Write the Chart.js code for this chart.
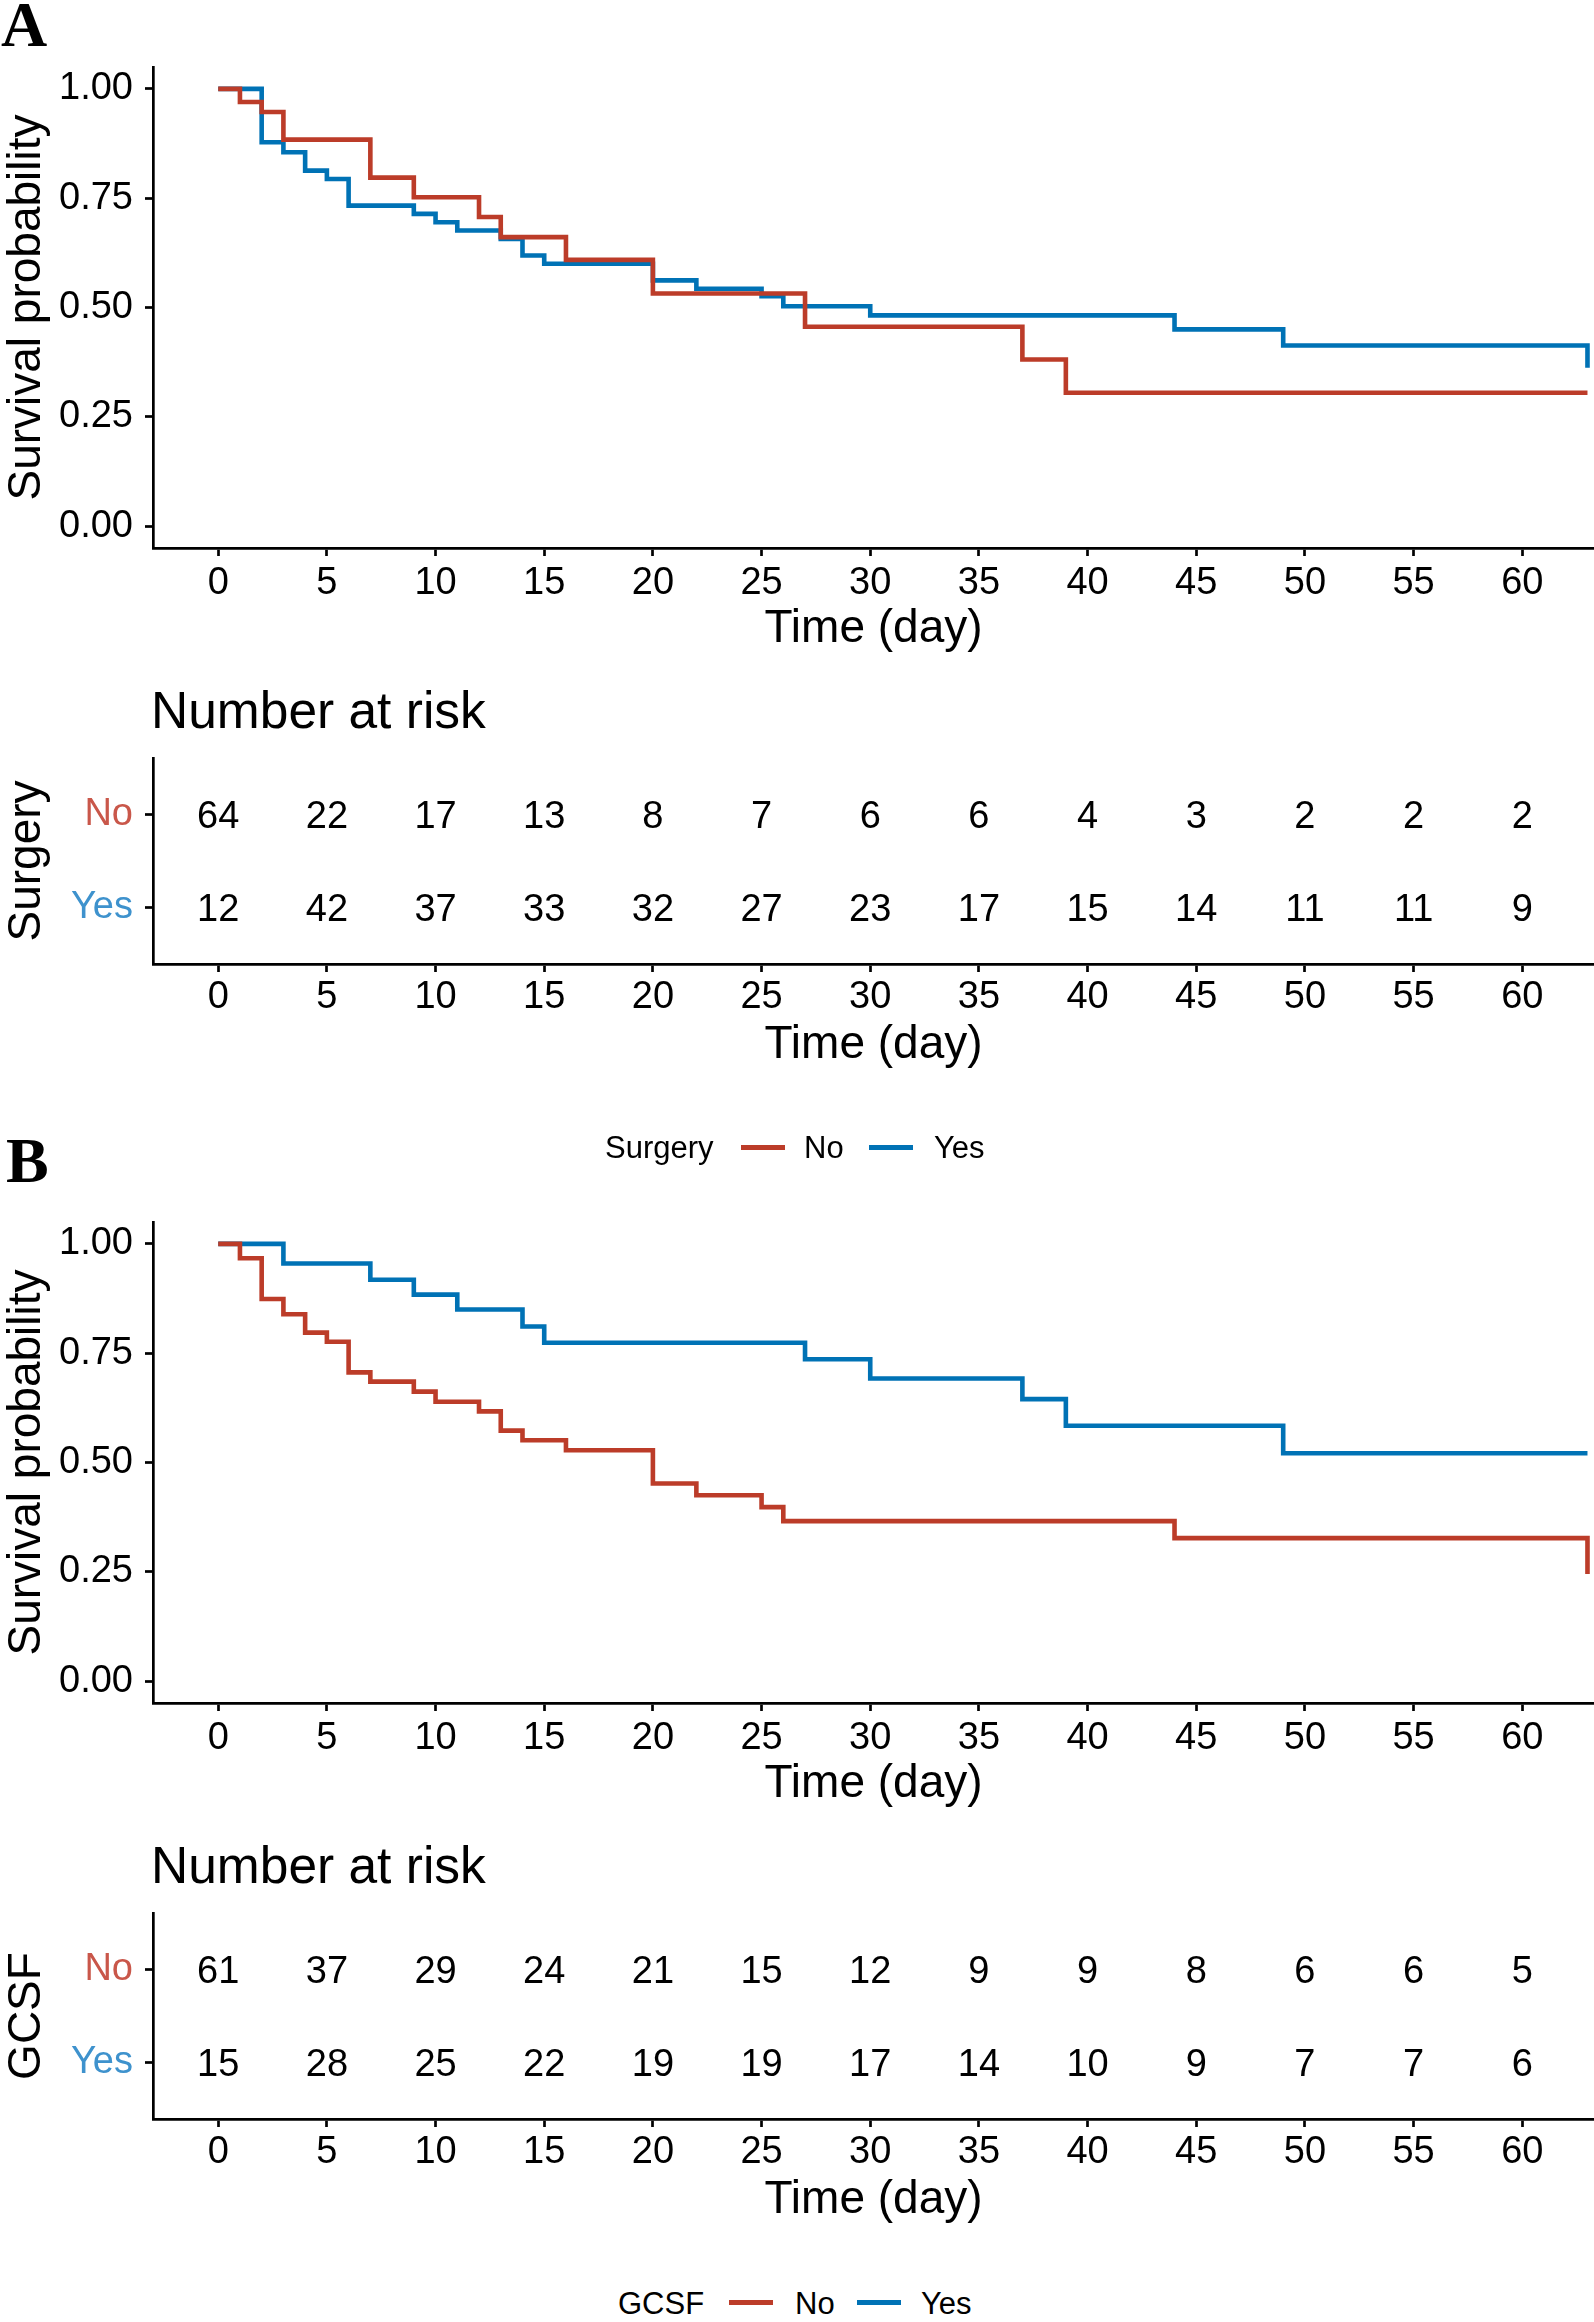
<!DOCTYPE html>
<html>
<head>
<meta charset="utf-8">
<script src="https://cdn.jsdelivr.net/npm/chart.js@4.4.1/dist/chart.umd.min.js"></script>
<style>
  html, body { margin: 0; padding: 0; background: #fff; }
  #page { position: relative; width: 1594px; height: 2322px; overflow: hidden;
          font-family: "Liberation Sans", Arial, sans-serif; color: #000; }
  canvas { position: absolute; left: 0; }
  .tag { position: absolute; font-family: "Liberation Serif", "Times New Roman", serif;
         font-weight: bold; font-size: 64px; line-height: 64px; }
  .risk-title { position: absolute; left: 151px; font-size: 51.5px; line-height: 50px; white-space: nowrap; }
  .lg { position: absolute; font-size: 31px; line-height: 31px; white-space: nowrap; }
  .key { position: absolute; width: 44px; height: 5px; }
</style>
</head>
<body>
<div id="page">
  <canvas id="survA" width="1594" height="660" style="top:0px"></canvas>
  <canvas id="riskA" width="1594" height="360" style="top:720px"></canvas>
  <canvas id="survB" width="1594" height="660" style="top:1155px"></canvas>
  <canvas id="riskB" width="1594" height="360" style="top:1875px"></canvas>

  <div class="tag" style="left:1px; top:-7px;">A</div>
  <div class="tag" style="left:6px; top:1129px;">B</div>

  <div class="risk-title" style="top:685px;">Number at risk</div>
  <div class="risk-title" style="top:1840px;">Number at risk</div>

  <!-- legend A -->
  <div class="lg" style="left:605px; top:1132px;">Surgery</div>
  <div class="key" style="left:741px; top:1145px; background:#BC3C29;"></div>
  <div class="lg" style="left:804px; top:1132px;">No</div>
  <div class="key" style="left:869px; top:1145px; background:#0072B5;"></div>
  <div class="lg" style="left:934px; top:1132px;">Yes</div>

  <!-- legend B -->
  <div class="lg" style="left:618px; top:2288px;">GCSF</div>
  <div class="key" style="left:729px; top:2300px; background:#BC3C29;"></div>
  <div class="lg" style="left:795px; top:2288px;">No</div>
  <div class="key" style="left:857px; top:2300px; background:#0072B5;"></div>
  <div class="lg" style="left:921px; top:2288px;">Yes</div>
</div>

<script>
// axis ticks
const timeTicks = [0, 5, 10, 15, 20, 25, 30, 35, 40, 45, 50, 55, 60];
const survTicks = [0, 0.25, 0.5, 0.75, 1];
const riskGroups = ['No', 'Yes'];

// A: Surgery, Kaplan-Meier steps (time in days, survival after that time)
const surgeryNoTime = [0, 1, 2, 3, 7, 9, 12, 13, 16, 20, 27, 37, 39, 63];
const surgeryNoSurv = [1, 0.970, 0.947, 0.884, 0.797, 0.752, 0.707, 0.661, 0.609, 0.532, 0.456, 0.381, 0.305, 0.305];
const surgeryYesTime = [0, 2, 3, 4, 5, 6, 9, 10, 11, 13, 14, 15, 20, 22, 25, 26, 30, 44, 49, 63];
const surgeryYesSurv = [1, 0.878, 0.855, 0.813, 0.794, 0.733, 0.714, 0.695, 0.676, 0.657, 0.619, 0.600, 0.562, 0.543, 0.526, 0.503, 0.482, 0.450, 0.413, 0.362];
const surgeryNoRisk = [64, 22, 17, 13, 8, 7, 6, 6, 4, 3, 2, 2, 2];
const surgeryYesRisk = [12, 42, 37, 33, 32, 27, 23, 17, 15, 14, 11, 11, 9];

// B: GCSF
const gcsfNoTime = [0, 1, 2, 3, 4, 5, 6, 7, 9, 10, 12, 13, 14, 16, 20, 22, 25, 26, 44, 63];
const gcsfNoSurv = [1, 0.967, 0.874, 0.839, 0.797, 0.776, 0.706, 0.685, 0.662, 0.639, 0.617, 0.573, 0.551, 0.528, 0.452, 0.425, 0.398, 0.366, 0.327, 0.245];
const gcsfYesTime = [0, 3, 7, 9, 11, 14, 15, 27, 30, 37, 39, 49, 63];
const gcsfYesSurv = [1, 0.955, 0.918, 0.884, 0.850, 0.811, 0.774, 0.736, 0.692, 0.645, 0.584, 0.521, 0.521];
const gcsfNoRisk = [61, 37, 29, 24, 21, 15, 12, 9, 9, 8, 6, 6, 5];
const gcsfYesRisk = [15, 28, 25, 22, 19, 19, 17, 14, 10, 9, 7, 7, 6];

const RED = '#BC3C29';
const BLUE = '#0072B5';
const RED_LABEL = '#C9574A';
const BLUE_LABEL = '#3E92CD';

Chart.defaults.font.family = '"Liberation Sans", Arial, sans-serif';
Chart.defaults.color = '#000';

function timeAxis(tickPad) {
  return {
    type: 'linear', min: -3, max: 63.3,
    afterBuildTicks: s => { s.ticks = timeTicks.map(v => ({ value: v })); },
    afterFit: s => { s.height = 109.4; },
    ticks: { font: { size: 38 }, color: '#000', padding: tickPad, maxRotation: 0, autoSkip: false,
             callback: v => String(v) },
    grid: { drawOnChartArea: false, drawTicks: true, tickLength: 8, tickWidth: 2.7, tickColor: '#000' },
    border: { display: true, color: '#000', width: 2.7 },
    title: { display: true, text: 'Time (day)', font: { size: 46 }, color: '#000', padding: 0 }
  };
}

function kmSeries(times, surv) {
  return times.map((t, i) => ({ x: t, y: surv[i] }));
}

function makeSurvival(id, noT, noS, yesT, yesS) {
  new Chart(document.getElementById(id), {
    type: 'line',
    data: {
      datasets: [
        { data: kmSeries(noT, noS), borderColor: RED, borderWidth: 4.6, stepped: true,
          pointRadius: 0, fill: false },
        { data: kmSeries(yesT, yesS), borderColor: BLUE, borderWidth: 4.6, stepped: true,
          pointRadius: 0, fill: false }
      ]
    },
    options: {
      responsive: false, animation: false, devicePixelRatio: 1,
      layout: { padding: { top: 67, left: 0, right: 0, bottom: 2.6 } },
      plugins: { legend: { display: false }, tooltip: { enabled: false } },
      scales: {
        x: timeAxis(5),
        y: {
          type: 'linear', min: -0.05, max: 1.05,
          afterBuildTicks: s => { s.ticks = survTicks.map(v => ({ value: v })); },
          afterFit: s => { s.width = 153; },
          ticks: { font: { size: 38 }, color: '#000', padding: 12, callback: v => v.toFixed(2) },
          grid: { drawOnChartArea: false, drawTicks: true, tickLength: 8, tickWidth: 2.7, tickColor: '#000' },
          border: { display: true, color: '#000', width: 2.7 },
          title: { display: true, text: 'Survival probability', font: { size: 46 }, color: '#000', padding: 0 }
        }
      }
    }
  });
}

// writes the at-risk counts at the positions the scales give the points
const riskNumbers = {
  id: 'riskNumbers',
  afterDatasetsDraw(chart) {
    const ctx = chart.ctx;
    ctx.save();
    ctx.font = '38px "Liberation Sans", Arial, sans-serif';
    ctx.fillStyle = '#000';
    ctx.textAlign = 'center';
    ctx.textBaseline = 'alphabetic';
    chart.data.datasets.forEach((ds, di) => {
      chart.getDatasetMeta(di).data.forEach((el, i) => {
        ctx.fillText(String(ds.data[i].n), el.x, el.y + 13.6);
      });
    });
    ctx.restore();
  }
};

function makeRisk(id, groupName, noRisk, yesRisk) {
  const rows = (counts, level) => timeTicks.map((t, i) => ({ x: t, y: level, n: counts[i] }));
  new Chart(document.getElementById(id), {
    type: 'scatter',
    data: {
      datasets: [
        { data: rows(noRisk, 2), pointRadius: 0 },
        { data: rows(yesRisk, 1), pointRadius: 0 }
      ]
    },
    options: {
      responsive: false, animation: false, devicePixelRatio: 1,
      layout: { padding: { top: 38, left: 0, right: 0, bottom: 6.6 } },
      plugins: { legend: { display: false }, tooltip: { enabled: false } },
      scales: {
        x: timeAxis(3),
        y: {
          type: 'linear', min: 0.4, max: 2.6,
          afterBuildTicks: s => { s.ticks = [{ value: 1 }, { value: 2 }]; },
          afterFit: s => { s.width = 153; },
          ticks: {
            font: { size: 38 }, padding: 12,
            callback: v => riskGroups[2 - v],
            color: c => (c.tick && c.tick.value === 2) ? RED_LABEL : BLUE_LABEL
          },
          grid: { drawOnChartArea: false, drawTicks: true, tickLength: 8, tickWidth: 2.7, tickColor: '#000' },
          border: { display: true, color: '#000', width: 2.7 },
          title: { display: true, text: groupName, font: { size: 46 }, color: '#000', padding: 0 }
        }
      }
    },
    plugins: [riskNumbers]
  });
}

makeSurvival('survA', surgeryNoTime, surgeryNoSurv, surgeryYesTime, surgeryYesSurv);
makeRisk('riskA', 'Surgery', surgeryNoRisk, surgeryYesRisk);
makeSurvival('survB', gcsfNoTime, gcsfNoSurv, gcsfYesTime, gcsfYesSurv);
makeRisk('riskB', 'GCSF', gcsfNoRisk, gcsfYesRisk);
</script>
</body>
</html>
